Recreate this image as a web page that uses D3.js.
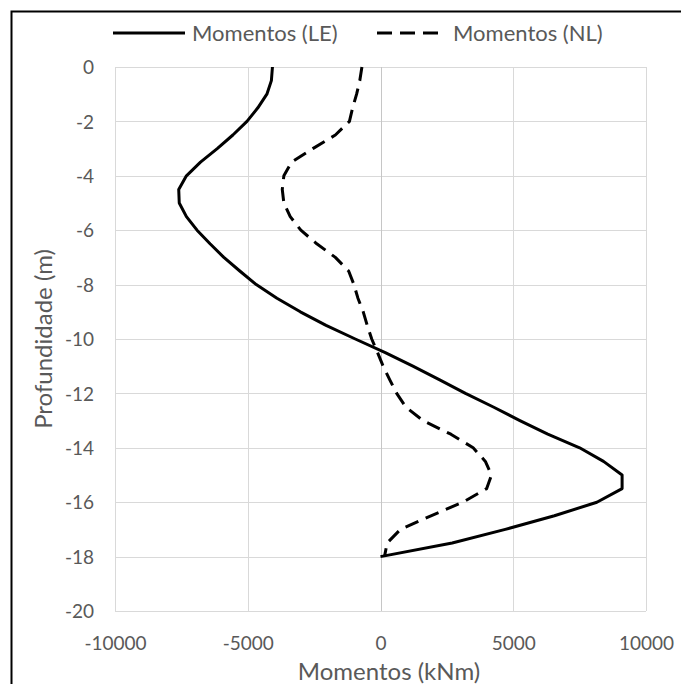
<!DOCTYPE html>
<html>
<head>
<meta charset="utf-8">
<script src="https://cdn.jsdelivr.net/npm/d3@7"></script>
<style>
    body { margin: 0; background: #fff; }
    svg { display: block; }
    text { font-family: Lato, "Open Sans", sans-serif; fill: #595959; }
</style>
</head>
<body>
<div id="chart"></div>
<script>
// profundidade (m) e momentos (kNm), lidos a cada 0.5 m
var profundidade = [0, -0.5, -1, -1.5, -2, -2.5, -3, -3.5, -4, -4.5, -5, -5.5, -6, -6.5, -7, -7.5, -8, -8.5, -9, -9.5,
    -10, -10.5, -11, -11.5, -12, -12.5, -13, -13.5, -14, -14.5, -15, -15.5, -16, -16.5, -17, -17.5, -18];

var momentosLE = [-4070, -4110, -4280, -4620, -5030, -5560, -6150, -6780, -7310, -7600, -7580, -7310, -6910, -6420,
    -5900, -5300, -4680, -3900, -3020, -2050, -950, 180, 1220, 2230, 3200, 4250, 5250, 6300, 7500, 8400, 9100, 9100,
    8150, 6550, 4700, 2700, 0];

var momentosNL = [-700, -780, -900, -1050, -1170, -1700, -2550, -3350, -3640, -3700, -3640, -3400, -3000, -2400,
    -1700, -1200, -1000, -850, -650, -500, -330, -110, 100, 350, 610, 950, 1600, 2650, 3490, 3950, 4180, 4000,
    3100, 1900, 750, 250, 150];

var xTicks = [-10000, -5000, 0, 5000, 10000];
var yTicks = [0, -2, -4, -6, -8, -10, -12, -14, -16, -18, -20];

var series = [
    {nome: "Momentos (LE)", valores: momentosLE, dash: null},
    {nome: "Momentos (NL)", valores: momentosNL, dash: "14,8"}
];

var width = 681, height = 684;
var svg = d3.select("#chart").append("svg")
    .attr("width", width)
    .attr("height", height);

// moldura
svg.append("rect")
    .attr("x", 11.5).attr("y", 11.5)
    .attr("width", 800).attr("height", 800)
    .style("fill", "none")
    .style("stroke", "#000")
    .style("stroke-width", 2);

var x = d3.scaleLinear().domain([-10000, 10000]).range([115, 646]);
var y = d3.scaleLinear().domain([-20, 0]).range([611, 67]);

// grelha
svg.append("g").selectAll("line").data(yTicks).enter().append("line")
    .attr("x1", x(-10000)).attr("x2", x(10000))
    .attr("y1", function (d) { return Math.round(y(d)) + 0.5; })
    .attr("y2", function (d) { return Math.round(y(d)) + 0.5; })
    .style("stroke", "#d9d9d9")
    .style("stroke-width", 1);

svg.append("g").selectAll("line").data(xTicks).enter().append("line")
    .attr("x1", function (d) { return Math.round(x(d)) + 0.5; })
    .attr("x2", function (d) { return Math.round(x(d)) + 0.5; })
    .attr("y1", y(0)).attr("y2", y(-20))
    .style("stroke", function (d) { return d == 0 ? "#c6c6c6" : "#d9d9d9"; })
    .style("stroke-width", 1);

// eixos (apenas rotulos)
var fmt = function (d) { return String(d); };

var xAxis = d3.axisBottom(x).tickValues(xTicks).tickFormat(fmt).tickSize(0).tickPadding(0);
var gx = svg.append("g").attr("transform", "translate(0,643)").call(xAxis);
gx.select(".domain").remove();
gx.selectAll("text").style("font-size", "19px").attr("y", 0).attr("dy", "0.35em").style("fill", "#595959");

var yAxis = d3.axisLeft(y).tickValues(yTicks).tickFormat(fmt).tickSize(0).tickPadding(0);
var gy = svg.append("g").attr("transform", "translate(94,0)").call(yAxis);
gy.select(".domain").remove();
gy.selectAll("text").style("font-size", "19px").attr("x", 0).attr("dy", "0.35em").style("fill", "#595959");

// titulos dos eixos
svg.append("text")
    .attr("x", 389).attr("y", 672).attr("dy", "0.35em")
    .attr("text-anchor", "middle")
    .style("font-size", "24px")
    .text("Momentos (kNm)");

svg.append("text")
    .attr("transform", "translate(44,339) rotate(-90)")
    .attr("dy", "0.35em")
    .attr("text-anchor", "middle")
    .style("font-size", "24px")
    .text("Profundidade (m)");

// curvas
var linha = d3.line()
    .x(function (d) { return x(d.m); })
    .y(function (d) { return y(d.p); });

for (var i = 0; i < series.length; i++) {
    var pts = [];
    for (var j = 0; j < profundidade.length; j++) {
        pts.push({p: profundidade[j], m: series[i].valores[j]});
    }
    svg.append("path")
        .datum(pts)
        .attr("d", linha)
        .style("fill", "none")
        .style("stroke", "#000")
        .style("stroke-width", 3)
        .style("stroke-linejoin", "round")
        .style("stroke-dasharray", series[i].dash);
}

// legenda
var legendaX = [113, 377];
var textoX = [192, 453];
for (var k = 0; k < series.length; k++) {
    svg.append("line")
        .attr("x1", legendaX[k]).attr("x2", legendaX[k] + (k == 0 ? 72 : 61))
        .attr("y1", 33).attr("y2", 33)
        .style("stroke", "#000")
        .style("stroke-width", 3)
        .style("stroke-dasharray", k == 0 ? null : "15,8");
    svg.append("text")
        .attr("x", textoX[k]).attr("y", 33).attr("dy", "0.35em")
        .style("font-size", "22px")
        .text(series[k].nome);
}
</script>
</body>
</html>
